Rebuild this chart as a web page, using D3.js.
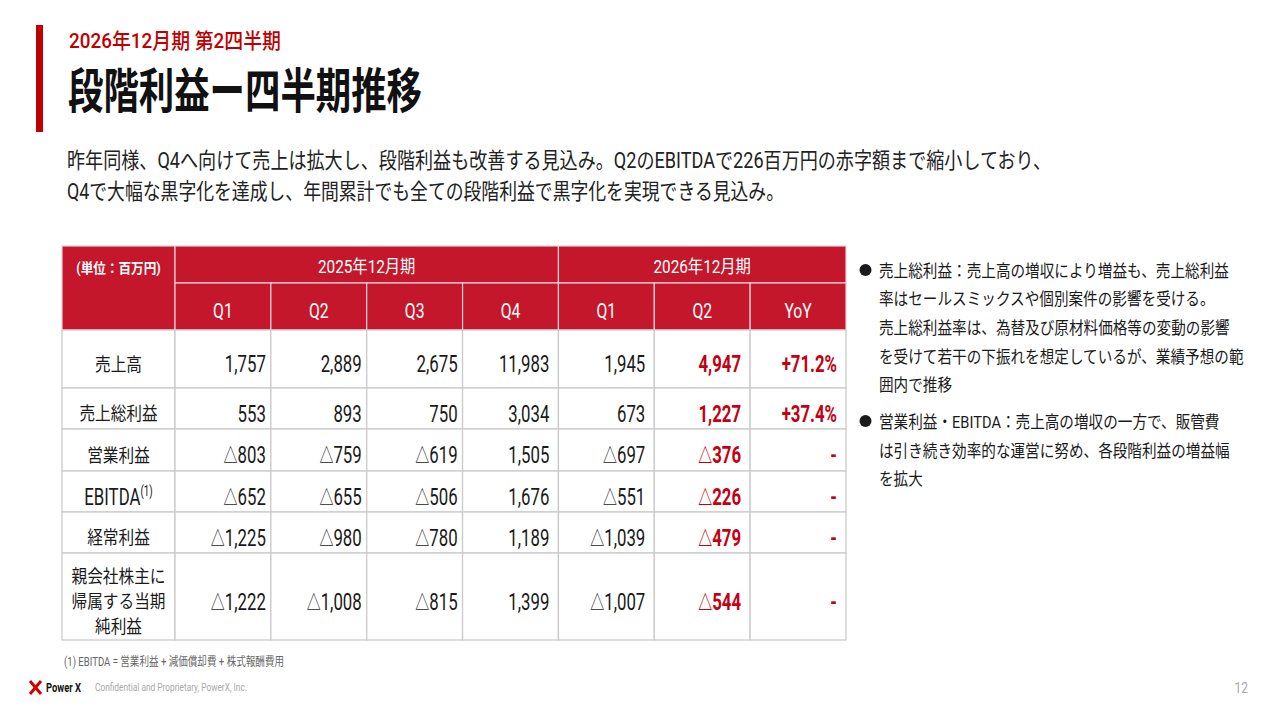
<!DOCTYPE html>
<html><head><meta charset="utf-8">
<script src="https://cdn.jsdelivr.net/npm/d3@7"></script>
<style>html,body{margin:0;background:#fff}svg{display:block}</style>
</head><body>
<svg id="c" width="1280" height="720"></svg>
<script>
// ---------- data ----------
const subtitle = "2026年12月期 第2四半期";
const title = "段階利益ー四半期推移";
const descLines = [
  "昨年同様、Q4へ向けて売上は拡大し、段階利益も改善する見込み。Q2のEBITDAで226百万円の赤字額まで縮小しており、",
  "Q4で大幅な黒字化を達成し、年間累計でも全ての段階利益で黒字化を実現できる見込み。"
];
const unitLabel = "(単位：百万円)";
const periodLabels = ["2025年12月期", "2026年12月期"];
const periodSpans = [4, 3];
const columnLabels = ["Q1", "Q2", "Q3", "Q4", "Q1", "Q2", "YoY"];
const rowLabels = [["売上高"], ["売上総利益"], ["営業利益"], ["EBITDA"], ["経常利益"], ["親会社株主に", "帰属する当期", "純利益"]];
const rowNotes = ["", "", "", "(1)", "", ""];
const fy2025 = [
  [1757, 2889, 2675, 11983],
  [553, 893, 750, 3034],
  [-803, -759, -619, 1505],
  [-652, -655, -506, 1676],
  [-1225, -980, -780, 1189],
  [-1222, -1008, -815, 1399]
];
const fy2026 = [
  [1945, 4947],
  [673, 1227],
  [-697, -376],
  [-551, -226],
  [-1039, -479],
  [-1007, -544]
];
const yoy = ["+71.2%", "+37.4%", "-", "-", "-", "-"];
const bullet1 = [
  "売上総利益：売上高の増収により増益も、売上総利益",
  "率はセールスミックスや個別案件の影響を受ける。",
  "売上総利益率は、為替及び原材料価格等の変動の影響",
  "を受けて若干の下振れを想定しているが、業績予想の範",
  "囲内で推移"
];
const bullet2 = [
  "営業利益・EBITDA：売上高の増収の一方で、販管費",
  "は引き続き効率的な運営に努め、各段階利益の増益幅",
  "を拡大"
];
const footnote = "(1) EBITDA = 営業利益 + 減価償却費 + 株式報酬費用";
const brand = "Power X";
const confidential = "Confidential and Proprietary, PowerX, Inc.";
const pageNo = "12";

// ---------- style / layout ----------
const FONT = "Roboto, 'Noto Sans CJK JP', 'Noto Sans', sans-serif";
const RED = "#c4172b";
const RED_TXT = "#c40012";
const INK = "#1a1a1a";
const svg = d3.select("#c");

function txt(g, str, x, y, o) {
  const t = g.append("text")
    .attr("transform", `translate(${x},${y}) scale(${o.sx || 1},1)`)
    .attr("text-anchor", o.anchor || "start")
    .attr("font-family", FONT)
    .attr("font-size", o.size)
    .attr("font-weight", o.weight || 400)
    .attr("fill", o.fill || INK);
  if (o.len) t.attr("textLength", o.len).attr("lengthAdjust", "spacingAndGlyphs");
  t.text(str);
  return t;
}

// header block
svg.append("rect").attr("x", 36).attr("y", 25).attr("width", 7).attr("height", 107).attr("fill", "#c00000");
txt(svg, subtitle, 69, 48, {size: 21, weight: 500, fill: "#c00000", len: 212});
txt(svg, title, 68, 108, {size: 48, weight: 700, fill: "#111", len: 354});
const descY = [168, 199];
const descLen = [984, 717];
descLines.forEach((l, i) => txt(svg, l, 67, descY[i], {size: 22, fill: "#222", len: descLen[i]}));

// ---------- table ----------
const tLeft = 62, labelRight = 175, tRight = 846;
const hTop = 246, hMid = 283, hBot = 330, tBot = 640;
const rowWeights = [58, 41, 42, 41, 41, 87];
const cum = [0]; rowWeights.forEach(w => cum.push(cum[cum.length - 1] + w));
const yRow = d3.scaleLinear().domain([0, cum[cum.length - 1]]).range([hBot, tBot]);
const xCol = d3.scaleBand().domain(d3.range(columnLabels.length)).range([labelRight, tRight]).paddingInner(0);
const bw = xCol.bandwidth();

const tbl = svg.append("g");
// header cells
const hdrStroke = "#e4d3d5";
tbl.append("rect").attr("x", tLeft).attr("y", hTop).attr("width", labelRight - tLeft).attr("height", hBot - hTop)
  .attr("fill", RED).attr("stroke", hdrStroke).attr("stroke-width", 1.2);
let startIdx = 0;
periodLabels.forEach((p, i) => {
  const x0 = xCol(startIdx), x1 = xCol(startIdx + periodSpans[i] - 1) + bw;
  tbl.append("rect").attr("x", x0).attr("y", hTop).attr("width", x1 - x0).attr("height", hMid - hTop)
    .attr("fill", RED).attr("stroke", hdrStroke).attr("stroke-width", 1.2);
  txt(tbl, p, (x0 + x1) / 2, 273, {size: 18, sx: 0.85, anchor: "middle", fill: "#fff"});
  startIdx += periodSpans[i];
});
columnLabels.forEach((c, i) => {
  tbl.append("rect").attr("x", xCol(i)).attr("y", hMid).attr("width", bw).attr("height", hBot - hMid)
    .attr("fill", RED).attr("stroke", hdrStroke).attr("stroke-width", 1.2);
  txt(tbl, c, xCol(i) + bw / 2, 318, {size: 21, sx: 0.75, anchor: "middle", fill: "#fff"});
});
txt(tbl, unitLabel, (tLeft + labelRight) / 2, 273, {size: 14, weight: 700, sx: 0.9, anchor: "middle", fill: "#fff"});

// body cells
const bodyStroke = "#cbcbcb";
const fmt = d3.format(",");
const pads = [5, 5, 5, 9, 9, 9, 9];
rowLabels.forEach((lab, r) => {
  const y0 = yRow(cum[r]), y1 = yRow(cum[r + 1]), yc = (y0 + y1) / 2;
  tbl.append("rect").attr("x", tLeft).attr("y", y0).attr("width", labelRight - tLeft).attr("height", y1 - y0)
    .attr("fill", "#fff").attr("stroke", bodyStroke).attr("stroke-width", 1.3);
  // label
  const cx = (tLeft + labelRight) / 2;
  if (/^[A-Za-z]/.test(lab[0])) {
    const t = txt(tbl, lab[0], cx, yc + 13.4, {size: 24, sx: 0.7, anchor: "middle"});
    if (rowNotes[r]) t.append("tspan").attr("font-size", 14).attr("dy", -9).text(rowNotes[r]);
  } else {
    const n = lab.length;
    lab.forEach((line, k) => {
      const lc = yc + 5 + (k - (n - 1) / 2) * 25;
      txt(tbl, line, cx, lc + 6.8, {size: 18, sx: 0.87, anchor: "middle"});
    });
  }
  const vals = fy2025[r].concat(fy2026[r]);
  const cells = vals.map(v => v).concat([yoy[r]]);
  cells.forEach((v, c) => {
    tbl.append("rect").attr("x", xCol(c)).attr("y", y0).attr("width", bw).attr("height", y1 - y0)
      .attr("fill", "#fff").attr("stroke", bodyStroke).attr("stroke-width", 1.3);
    const hi = c >= 5;
    const t = tbl.append("text")
      .attr("transform", `translate(${xCol(c) + bw - pads[c]},${yc + 13.4}) scale(0.7,1)`)
      .attr("text-anchor", "end").attr("font-family", FONT).attr("font-size", 24)
      .attr("font-weight", hi ? 700 : 400).attr("fill", hi ? RED_TXT : INK);
    if (typeof v === "number") {
      if (v < 0) t.append("tspan").attr("font-size", 20).text("△");
      t.append("tspan").text(fmt(Math.abs(v)));
    } else {
      t.text(v);
    }
  });
});

// ---------- bullets ----------
const b1Y = [270, 298, 327, 356, 384];
const b2Y = [421, 450, 478];
[[bullet1, b1Y], [bullet2, b2Y]].forEach(([lines, ys]) => {
  svg.append("circle").attr("cx", 865.5).attr("cy", ys[0]).attr("r", 6).attr("fill", INK);
  lines.forEach((l, i) => txt(svg, l, 879, ys[i] + 6.5, {size: 17, sx: 0.86, fill: INK}));
});

// ---------- footer ----------
txt(svg, footnote, 64, 666, {size: 12, fill: "#666", len: 220});
const logo = svg.append("g").attr("stroke", "#d40000").attr("stroke-width", 3).attr("stroke-linecap", "butt");
logo.append("line").attr("x1", 30).attr("y1", 681).attr("x2", 41).attr("y2", 694);
logo.append("line").attr("x1", 41).attr("y1", 681).attr("x2", 30).attr("y2", 694);
txt(svg, brand, 46, 692, {size: 13, weight: 700, fill: "#111", len: 35});
txt(svg, confidential, 95, 691, {size: 11, fill: "#a8a8a8", len: 152});
txt(svg, pageNo, 1248, 693, {size: 15, sx: 0.8, anchor: "end", fill: "#a8a8a8"});
</script>
</body></html>
